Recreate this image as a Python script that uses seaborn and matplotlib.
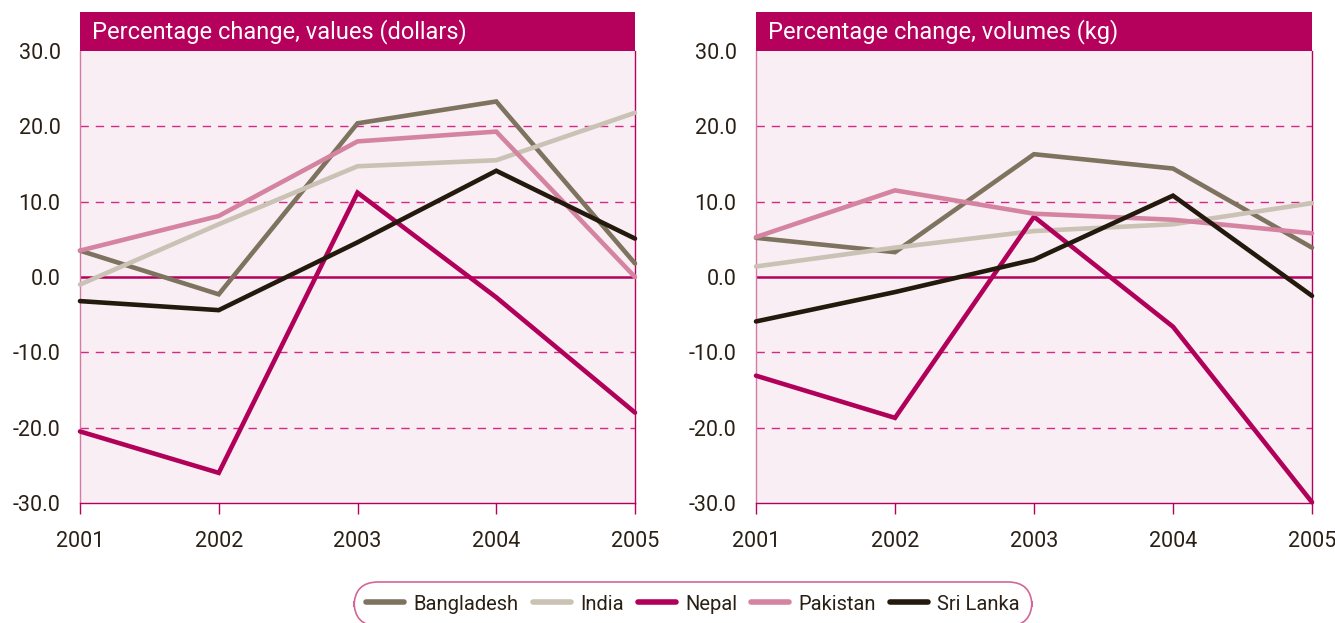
import matplotlib
matplotlib.use("Agg")
import matplotlib.pyplot as plt
import seaborn as sns
import pandas as pd
from matplotlib.patches import Rectangle
from matplotlib.lines import Line2D

years = [2001, 2002, 2003, 2004, 2005]
countries = ["Bangladesh", "India", "Nepal", "Pakistan", "Sri Lanka"]

values_bangladesh = [3.5, -2.3, 20.4, 23.3, 1.8]
values_india = [-1.0, 7.0, 14.7, 15.5, 21.8]
values_nepal = [-20.5, -26.0, 11.2, -2.7, -18.0]
values_pakistan = [3.5, 8.1, 18.0, 19.3, 0.0]
values_srilanka = [-3.2, -4.4, 4.6, 14.1, 5.1]

volumes_bangladesh = [5.2, 3.3, 16.3, 14.4, 3.9]
volumes_india = [1.4, 3.9, 6.1, 7.0, 9.8]
volumes_nepal = [-13.1, -18.7, 8.0, -6.6, -29.9]
volumes_pakistan = [5.3, 11.5, 8.4, 7.6, 5.8]
volumes_srilanka = [-5.9, -2.0, 2.3, 10.8, -2.5]

titles = ["Percentage change, values (dollars)", "Percentage change, volumes (kg)"]
yticks = [-30, -20, -10, 0, 10, 20, 30]

colors = {"Bangladesh": "#7d735e", "India": "#c9c2b5", "Nepal": "#b0005a",
          "Pakistan": "#d484a0", "Sri Lanka": "#231a0d"}
MAG = "#b5005c"

def frame(series):
    rows = []
    for c, vals in zip(countries, series):
        for y, v in zip(years, vals):
            rows.append({"Year": y, "Country": c, "Change": v})
    return pd.DataFrame(rows)

df_values = frame([values_bangladesh, values_india, values_nepal, values_pakistan, values_srilanka])
df_volumes = frame([volumes_bangladesh, volumes_india, volumes_nepal, volumes_pakistan, volumes_srilanka])

sns.set_theme(style="white")
plt.rcParams['font.family'] = ['Liberation Sans Narrow', 'Roboto', 'DejaVu Sans']

fig = plt.figure(figsize=(13.35, 6.23), dpi=100)
W, H = 1335, 623
ax_positions = [(80, 635), (756, 1312)]
top_px, bot_px = 51, 503
axes = []
for (l, r) in ax_positions:
    ax = fig.add_axes([l / W, 1 - bot_px / H, (r - l) / W, (bot_px - top_px) / H])
    axes.append(ax)

for ax, df, title in zip(axes, [df_values, df_volumes], titles):
    ax.set_facecolor("#f9eef3")
    for t in [-20, -10, 10, 20]:
        ax.axhline(t, color="#d42a85", lw=1.0, ls=(0, (6, 5)), zorder=1)
    ax.axhline(0, color=MAG, lw=1.8, zorder=1)
    sns.lineplot(data=df, x="Year", y="Change", hue="Country", palette=colors,
                 hue_order=countries, linewidth=3.3, ax=ax, legend=False, zorder=3)
    for line in ax.lines[5:]:
        line.set_solid_capstyle("round")
        line.set_solid_joinstyle("miter")
        line.set_clip_on(False)
    ax.set_xlim(2001, 2005)
    ax.set_ylim(-30, 30)
    ax.set_xticks(years)
    ax.set_xticklabels([str(y) for y in years])
    ax.set_yticks(yticks)
    ax.set_yticklabels([f"{t:.1f}" for t in yticks])
    ax.set_xlabel("")
    ax.set_ylabel("")
    ax.tick_params(axis="x", direction="out", length=8, width=1, color=MAG,
                   labelsize=15.5, labelcolor="#2a2015", pad=12, bottom=True)
    ax.tick_params(axis="y", length=0, labelsize=15.5, labelcolor="#2a2015", pad=14)
    ax.spines["top"].set_visible(False)
    ax.spines["left"].set_color("#d47aa6")
    ax.spines["right"].set_color(MAG)
    ax.spines["bottom"].set_color(MAG)
    for s in ["left", "right", "bottom"]:
        ax.spines[s].set_linewidth(1.0)
    hfrac = 39 / (bot_px - top_px)
    ax.add_patch(Rectangle((0, 1), 1, hfrac, transform=ax.transAxes,
                           facecolor=MAG, edgecolor="none", clip_on=False, zorder=5))
    ax.text(0.021, 1 + hfrac / 2, title, transform=ax.transAxes, color="white",
            fontsize=17, fontweight="normal", va="center", ha="left", zorder=6)

handles = [Line2D([0], [0], color=colors[c], lw=4, solid_capstyle="round") for c in countries]
leg = fig.legend(handles, countries, loc="center", bbox_to_anchor=(693 / W, 1 - 604 / H),
                 ncol=5, frameon=True, fancybox=True, fontsize=14.5, handlelength=1.9,
                 handletextpad=0.45, columnspacing=0.7, borderpad=0.6)
leg.get_frame().set_edgecolor("#c8407f")
leg.get_frame().set_linewidth(1.2)
leg.get_frame().set_boxstyle("round", pad=0.0, rounding_size=1.2)
for t in leg.get_texts():
    t.set_color("#2a2015")

fig.savefig("out.png", dpi=100, facecolor="white")
